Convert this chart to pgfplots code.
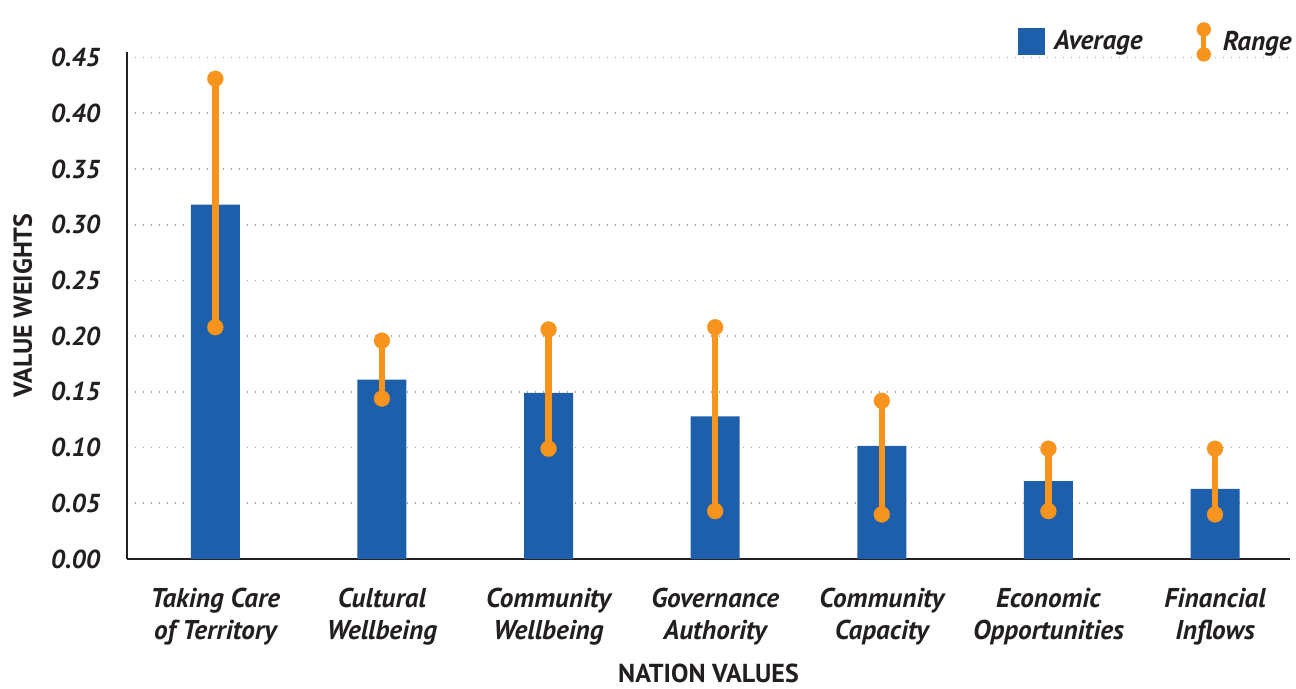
\documentclass[border=0pt]{standalone}
\usepackage{fontspec}
\setmainfont{PT Sans}
\usepackage{pgfplots}
\pgfplotsset{compat=1.18}

\definecolor{barblue}{RGB}{30,95,171}
\definecolor{rangeorange}{RGB}{247,148,30}
\definecolor{txt}{RGB}{35,31,32}

\begin{document}
\begin{tikzpicture}
\begin{axis}[
    name=ax,
    scale only axis,
    width=581.5pt, height=253.5pt,
    xmin=-0.53, xmax=6.45,
    ymin=0, ymax=0.455,
    axis x line=bottom, axis y line=left,
    axis line style={line width=1.25pt, txt, -},
    major tick length=0pt,
    xtick={0,...,6},
    xticklabels={{Taking Care\\of Territory},{Cultural\\Wellbeing},{Community\\Wellbeing},{Governance\\Authority},{Community\\Capacity},{Economic\\Opportunities},{Financial\\Inflows}},
    xticklabel style={align=center, font=\fontsize{13.6}{16}\selectfont\bfseries\itshape, text=txt, yshift=-11pt},
    ytick={0,0.05,...,0.45},
    yticklabel style={font=\fontsize{13}{15}\selectfont\bfseries\itshape, text=txt, xshift=-10pt,
        /pgf/number format/fixed, /pgf/number format/fixed zerofill, /pgf/number format/precision=2,
        /pgf/number format/assume math mode=true},
    scaled y ticks=false,
    ymajorgrids,
    grid style={gray!70, line width=0.8pt, dash pattern=on 0.6pt off 3.4pt},
    xlabel={NATION VALUES},
    ylabel={VALUE WEIGHTS},
    xlabel style={font=\fontsize{13}{15}\selectfont\bfseries, text=txt, yshift=-2.5pt},
    ylabel style={font=\fontsize{13}{15}\selectfont\bfseries, text=txt, yshift=2.5pt},
    unbounded coords=jump,
    legend columns=2,
    legend style={at={(1,1)}, anchor=south east, draw=none, fill=none,
        font=\fontsize{13.6}{15}\selectfont\bfseries\itshape, text=txt,
        /tikz/every even column/.append style={column sep=25pt}, yshift=-7pt, xshift=6pt},
]
\addplot[ybar, bar width=24.5pt, fill=barblue, draw=none, bar shift=0pt,
    legend image code/.code={
        \path[draw=none, fill=none] (0pt,0pt) -- (16pt,0pt);
        \fill[barblue] (0pt,-6.75pt) rectangle (13.5pt,6.75pt);}]
    coordinates {(0,0.318) (1,0.161) (2,0.149) (3,0.128) (4,0.1015) (5,0.070) (6,0.063)};
\addlegendentry{Average}
\addplot[rangeorange, line width=3.2pt, mark=*, mark size=4pt,
    mark options={fill=rangeorange, draw=rangeorange, line width=0.1pt},
    legend image code/.code={
        \path[draw=none, fill=none] (0pt,0pt) -- (11pt,0pt);
        \draw[rangeorange, line width=2.6pt] (3.5pt,-6.25pt) -- (3.5pt,6.25pt);
        \path[fill=rangeorange, draw=none, line width=0pt] (3.5pt,6.25pt) circle (3.6pt);
        \path[fill=rangeorange, draw=none, line width=0pt] (3.5pt,-6.25pt) circle (3.6pt);}]
    coordinates {
    (0,0.208) (0,0.431) (0,nan)
    (1,0.144) (1,0.196) (1,nan)
    (2,0.099) (2,0.206) (2,nan)
    (3,0.043) (3,0.208) (3,nan)
    (4,0.040) (4,0.142) (4,nan)
    (5,0.043) (5,0.099) (5,nan)
    (6,0.040) (6,0.099)
    };
\addlegendentry{Range}
\end{axis}
\pgfresetboundingbox
\path ([shift={(-63.5pt,-64.5pt)}]ax.south west) rectangle ([shift={(3pt,26pt)}]ax.north east);
\end{tikzpicture}
\end{document}
